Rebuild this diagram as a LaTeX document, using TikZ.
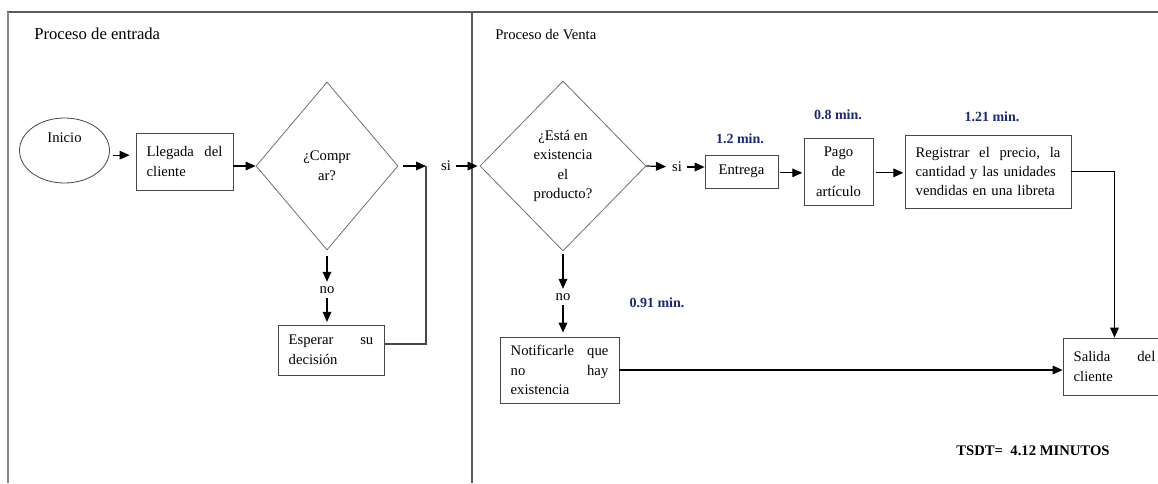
\documentclass[tikz,border=0pt]{standalone}
\usepackage{fontspec}
\setmainfont{Liberation Serif}
\usepackage{tikz}
\usetikzlibrary{arrows.meta, shapes.geometric}
\definecolor{my_frame}{HTML}{5A5A5A}
\definecolor{my_line}{HTML}{474747}
\definecolor{my_lightline}{HTML}{707070}
\definecolor{my_navy}{HTML}{1B2A78}

\begin{document}
\begin{tikzpicture}[
    x=0.75pt, y=-0.75pt,
    every node/.style={font=\fontsize{11}{15}\selectfont},
    box/.style={draw=my_line, line width=0.6pt, rectangle, inner xsep=8pt, inner ysep=0pt, align=left},
    decision/.style={draw=my_lightline, line width=0.6pt, diamond, inner sep=0pt, align=center},
    arr/.style={-{Triangle[length=7.5pt, width=6.5pt]}, black, line width=0.9pt},
    link/.style={my_line, line width=0.9pt},
    timelabel/.style={font=\fontsize{10.5}{12}\selectfont\bfseries, text=my_navy}
]
\useasboundingbox (0,0) rectangle (1158,483);
\clip (0,0) rectangle (1158,483);

% Units are pixels of the 1158 x 483 page (y grows downwards)

% Lane frame: top line, left edge and the divider between lanes
\draw[my_frame, line width=1.2pt] (7,12) -- (1158,12);
\draw[my_frame!70, line width=1.4pt] (8,12) -- (8,483);
\draw[my_frame, line width=1.2pt] (472,12) -- (472,483);

% Lane titles
\node[anchor=west, inner xsep=0pt, font=\fontsize{12.5}{15}\selectfont] (lane1) at (34,34) {Proceso de entrada};
\node[anchor=west, inner xsep=0pt, font=\fontsize{11}{13}\selectfont] (lane2) at (495,35) {Proceso de Venta};

% Entry lane
\node[draw=my_line, line width=0.6pt, ellipse, minimum width=67.5pt, minimum height=48.75pt,
      inner sep=0pt, align=center] (inicio) at (64.5,150.5) {Inicio\\ \strut};
\node[box, text width=56.75pt, minimum height=42.75pt] (llegada) at (184.5,161.5)
    {Llegada\hfill del\\cliente};
\node[decision, minimum width=106.5pt, minimum height=126pt] (comprar) at (327,166)
    {¿Compr\\ar?};
\node[box, text width=63.5pt, minimum height=37.5pt] (esperar) at (331,350)
    {Esperar\hfill su\\decisión};
\node (no1) at (327,290) {no};
\node (si1) at (446,166) {si};
\coordinate (join) at (426,166);

% Sales lane
\node[decision, minimum width=124.5pt, minimum height=127.5pt,
      font=\fontsize{11}{14.6}\selectfont] (existencia) at (563,166)
    {¿Está en\\existencia\\el\\producto?};
\node (si2) at (677,167) {si};
\node (no2) at (563,297) {no};
\node[box, align=center, minimum width=54.75pt, minimum height=24.75pt, inner xsep=2pt] (entrega) at (741.5,171.5)
    {Entrega};
\node[box, align=center, minimum width=51.75pt, minimum height=50.25pt, inner xsep=2pt] (pago) at (838.5,171.5)
    {Pago\\de\\artículo};
\node[box, text width=108.5pt, minimum height=54.75pt, font=\fontsize{11}{14}\selectfont] (registrar) at (988,171.5)
    {Registrar\hfill el\hfill precio,\hfill la\\cantidad y las unidades\\vendidas en una libreta};
\node[box, text width=73.25pt, minimum height=49.5pt, font=\fontsize{11}{14.4}\selectfont] (notificar) at (559.5,370)
    {Notificarle\hfill que\\no\hfill hay\\existencia};
\node[box, text width=61.25pt, minimum height=42.75pt] (salida) at (1114.5,366.5)
    {Salida\hfill del\\cliente};

% Times of each step
\node[timelabel] (t1) at (740,139) {1.2 min.};
\node[timelabel] (t2) at (838,115) {0.8 min.};
\node[timelabel] (t3) at (992,117) {1.21 min.};
\node[timelabel] (t4) at (657,303) {0.91 min.};
\node[font=\fontsize{11}{13}\selectfont\bfseries] (total) at (1033,451) {TSDT= \ 4.12 MINUTOS};

% Connectors of the entry lane
\coordinate (p1) at ([yshift=-3.5pt]inicio.east);
\draw[arr, shorten <=2pt, shorten >=4.5pt] (p1) -- (p1 -| llegada.west);
\draw[arr] (llegada.east |- comprar.west) -- (comprar.west);
\draw[arr, shorten <=3.5pt] (comprar.east) -- (join);
\draw[arr, shorten <=4.5pt] (comprar.south) -- (no1);
\draw[arr, shorten >=2pt] (no1) -- (no1 |- esperar.north);
\draw[link] ([yshift=4.5pt]esperar.east) -| (join);
\draw[arr, shorten >=1.5pt] (si1.east) -- (existencia.west);

% Connectors of the sales lane
\draw[arr, shorten >=1pt] (existencia.east) -- (si2);
\draw[arr] (si2.east) -- (si2.east -| entrega.west);
\draw[arr, shorten <=1.5pt, shorten >=1pt] ([yshift=-1pt]entrega.east) -- ([yshift=-1pt]entrega.east -| pago.west);
\draw[arr, shorten <=2pt, shorten >=1pt] ([yshift=-1pt]pago.east) -- ([yshift=-1pt]pago.east -| registrar.west);
\draw[arr, shorten <=2pt] (existencia.south) -- (no2);
\draw[arr, shorten >=3pt] (no2) -- (no2 |- notificar.north);
\draw[arr, line width=0.7pt] (registrar.east) -| (salida.north);
\draw[arr] (notificar.east) -- (notificar.east -| salida.west);

\end{tikzpicture}
\end{document}
